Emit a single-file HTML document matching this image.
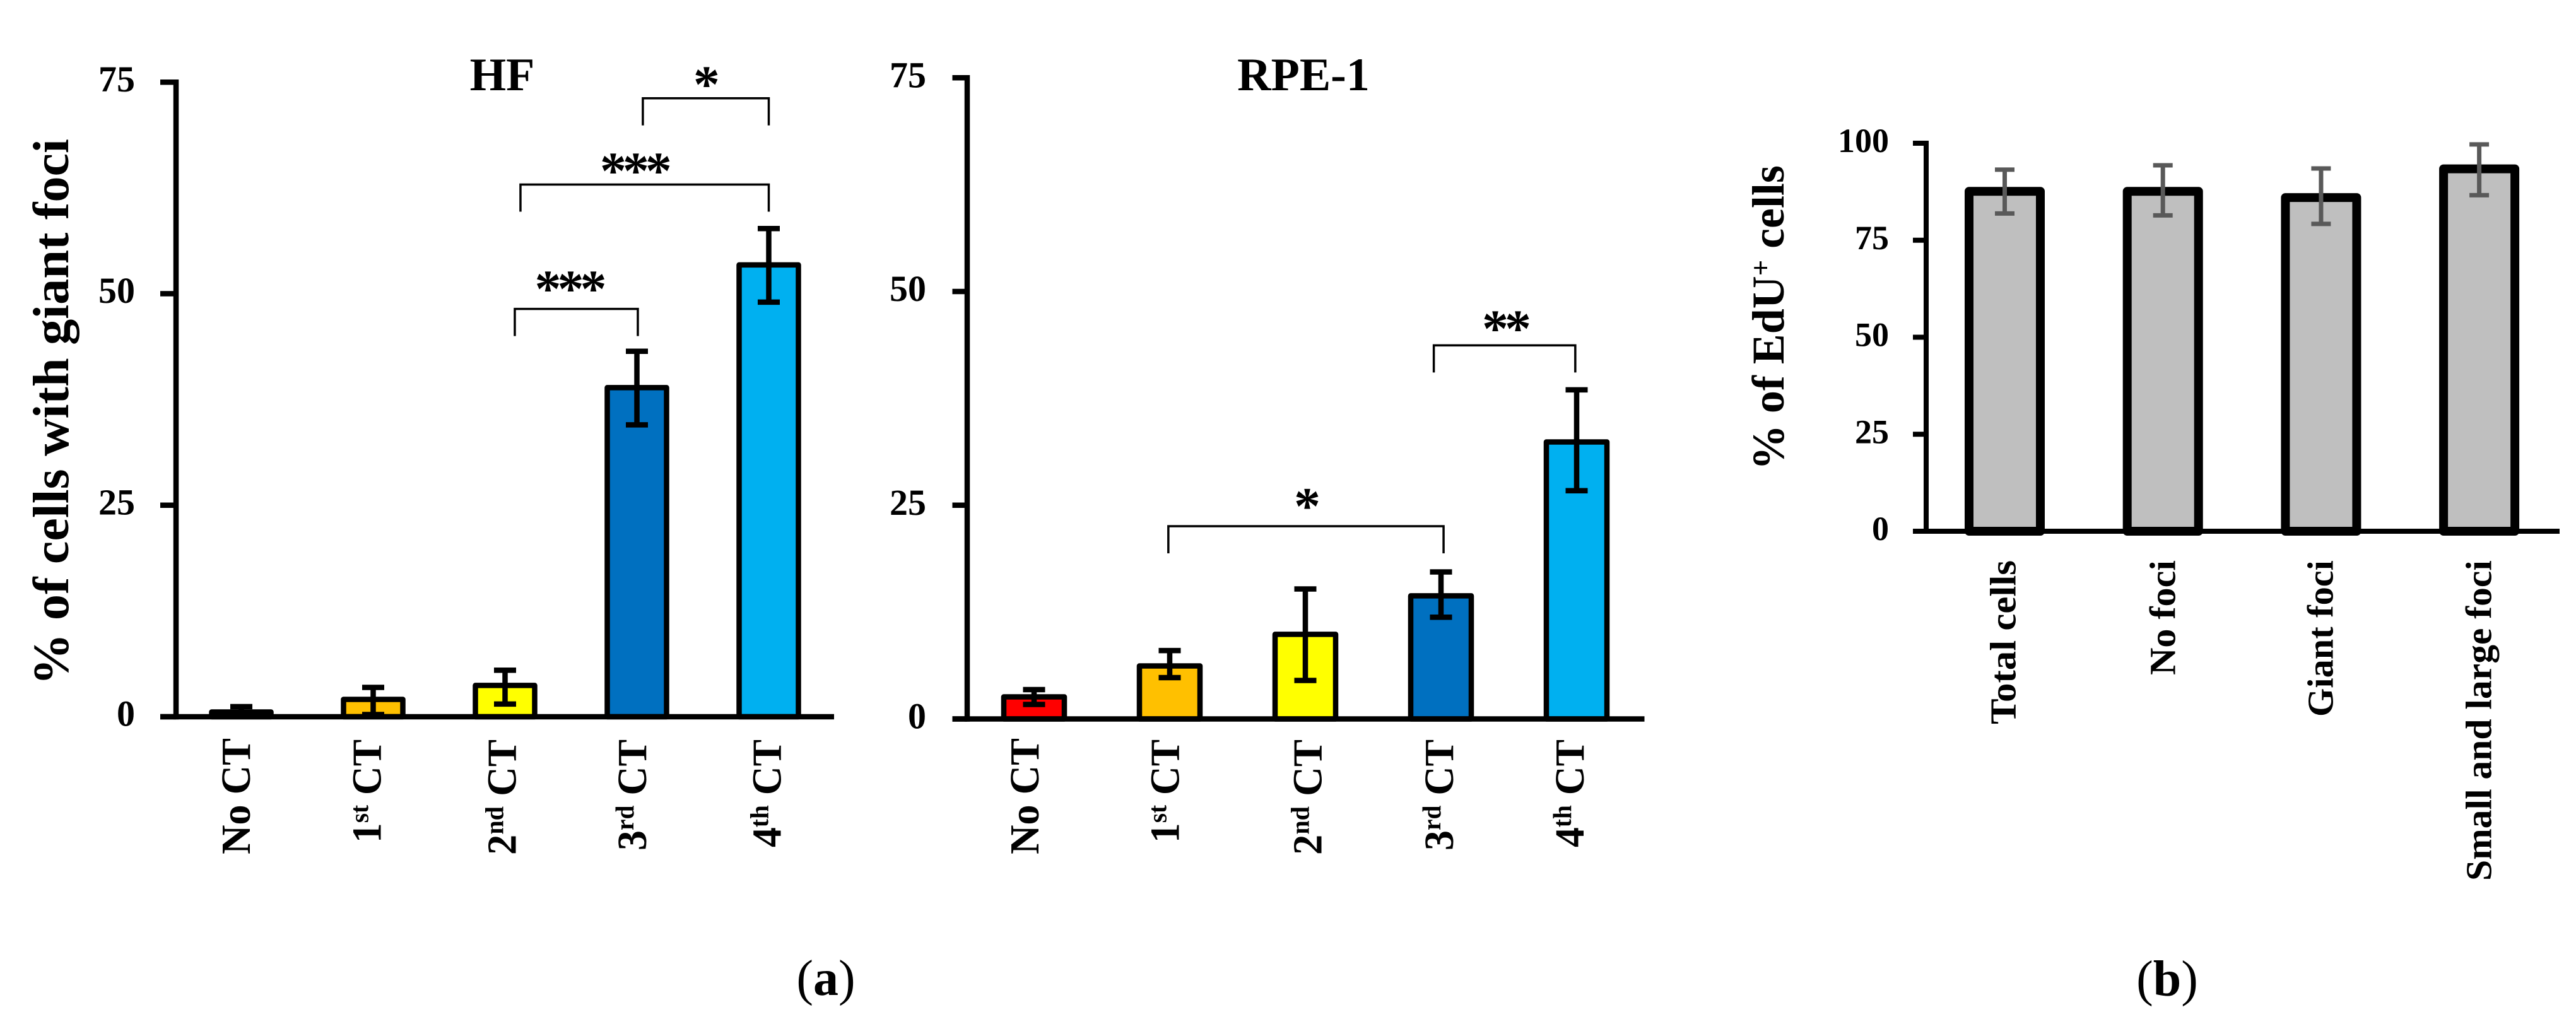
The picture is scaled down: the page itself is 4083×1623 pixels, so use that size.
<!DOCTYPE html>
<html>
<head>
<meta charset="utf-8">
<title>Giant foci charts</title>
<style>
html,body{margin:0;padding:0;background:#fff;width:4083px;height:1623px;overflow:hidden}
svg{display:block}
text{font-family:"Liberation Serif",serif;font-weight:bold;fill:#000}
</style>
</head>
<body>
<svg id="fig" xmlns="http://www.w3.org/2000/svg" width="4083" height="1623" viewBox="0 0 4083 1623">
<rect x="0" y="0" width="4083" height="1623" fill="#fff"/>
<text x="1309" y="1577" font-size="80" text-anchor="middle"><tspan font-weight="normal">(</tspan>a<tspan font-weight="normal">)</tspan></text>
<text x="3435" y="1578" font-size="80" text-anchor="middle"><tspan font-weight="normal">(</tspan>b<tspan font-weight="normal">)</tspan></text>
</svg>
<script>
// categories
const ctCategories = [['No CT'], ['1','st',' CT'], ['2','nd',' CT'], ['3','rd',' CT'], ['4','th',' CT']];
const edUCategories = [['Total cells'], ['No foci'], ['Giant foci'], ['Small and large foci']];
// tick labels
const ctTicks = [0, 25, 50, 75];
const edUTicks = [0, 25, 50, 75, 100];
// series values
const hfValues = [0.56, 2.05, 3.7, 38.9, 53.4];
const hfErrLow = [0.1, 0.26, 1.5, 34.5, 49.0];
const hfErrHigh = [1.19, 3.47, 5.5, 43.2, 57.7];
const rpeValues = [2.58, 6.2, 9.9, 14.4, 32.4];
const rpeErrLow = [1.7, 4.83, 4.5, 11.9, 26.7];
const rpeErrHigh = [3.43, 8.0, 15.2, 17.2, 38.5];
const edUValues = [87.6, 87.6, 86.0, 93.4];
const edUErrLow = [81.9, 81.4, 79.2, 86.6];
const edUErrHigh = [93.2, 94.3, 93.5, 99.7];
const ctColors = ['#FF0000', '#FFC000', '#FFFF00', '#0070C0', '#00B0F0'];
const edUColors = ['#BFBFBF', '#BFBFBF', '#BFBFBF', '#BFBFBF'];
// significance: from-category, to-category, height on the value axis, stars, star category position, star height above bracket (value units)
const hfSig = [[3.045, 4, 73.1, '*', 3.514, 0], [2.117, 4, 62.9, '***', 2.978, 0], [2.074, 3.007, 48.2, '***', 2.483, 0.75]];
const rpeSig = [[2.947, 3.99, 43.7, '**', 3.47, 0.37], [0.99, 3.019, 22.55, '*', 2.0, 0.74]];

const NS = 'http://www.w3.org/2000/svg';
const svg = document.getElementById('fig');
function mk(tag, attrs, name, parent) {
  const el = document.createElementNS(NS, tag);
  for (const k in attrs) el.setAttribute(k, attrs[k]);
  
  
  (parent || svg).appendChild(el);
  return el;
}
function line(x1, y1, x2, y2, w, color, name, g) {
  return mk('line', {x1, y1, x2, y2, stroke: color, 'stroke-width': w}, name, g);
}
// rotated text stretched to a target length; parts = [text] or [num, sup, rest]
function vText(x, y, parts, size, len, name, g) {
  const t = mk('text', {'font-size': size, 'text-anchor': 'start'}, name, g);
  if (parts.length === 1) {
    t.textContent = parts[0];
  } else {
    const a = document.createElementNS(NS, 'tspan'); a.textContent = parts[0]; t.appendChild(a);
    const b = document.createElementNS(NS, 'tspan'); b.textContent = parts[1];
    b.setAttribute('font-size', size * 0.62); b.setAttribute('dy', -size * 0.3); t.appendChild(b);
    const c = document.createElementNS(NS, 'tspan'); c.textContent = parts[2];
    c.setAttribute('dy', size * 0.3); c.setAttribute('xml:space', 'preserve'); t.appendChild(c);
    t.setAttribute('xml:space', 'preserve');
    t.style.whiteSpace = 'pre';
  }
  const sx = len / t.getComputedTextLength();
  t.setAttribute('transform', `translate(${x},${y}) rotate(-90) scale(${sx},1)`);
  return t;
}
function drawPanel(p) {
  const g = mk('g', {}, p.name + '-chart');
  const xPos = i => p.x0 + i * p.step;
  const yPos = v => p.y0 - v * p.unit;
  // bars
  p.values.forEach((v, i) => {
    mk('rect', {x: xPos(i) - p.barW / 2, y: yPos(v), width: p.barW, height: Math.max(p.y0 - yPos(v), 0),
      fill: p.colors[i], stroke: '#000', 'stroke-width': p.barStroke, 'stroke-linejoin': 'round'}, 'bar-' + p.name + '-' + i, g);
  });
  // error bars
  p.values.forEach((v, i) => {
    const cx = xPos(i), hi = yPos(p.high[i]), lo = yPos(p.low[i]);
    line(cx, hi, cx, lo, p.errW, p.errColor, 'error-stem-' + p.name + '-' + i, g);
    line(cx - p.capW / 2, hi, cx + p.capW / 2, hi, p.errW, p.errColor, 'error-cap-high-' + p.name + '-' + i, g);
    line(cx - p.capW / 2, lo, cx + p.capW / 2, lo, p.errW, p.errColor, 'error-cap-low-' + p.name + '-' + i, g);
  });
  // axes
  line(p.axisX, yPos(p.ticks[p.ticks.length - 1]) - p.axisW / 2, p.axisX, p.y0 + p.axisW / 2, p.axisW, '#000', p.name + '-y-axis', g);
  line(p.tickLeft, p.y0, p.xEnd, p.y0, p.axisW, '#000', p.name + '-x-axis', g);
  p.ticks.forEach(t => {
    line(p.tickLeft, yPos(t), p.axisX, yPos(t), p.axisW, '#000', p.name + '-y-tick-' + t, g);
    const label = mk('text', {x: p.labelX, y: yPos(t) + p.tickDy, 'font-size': p.tickSize, 'text-anchor': 'end'}, p.name + '-y-tick-label-' + t, g);
    label.textContent = t;
  });
  // category labels
  p.categories.forEach((c, i) => {
    vText(xPos(i) + p.catDx[i], p.catBottom[i], c, p.catSize, p.catLen[i], p.name + '-x-label-' + i, g);
  });
  // significance brackets
  (p.sig || []).forEach((s, i) => {
    const x1 = xPos(s[0]), x2 = xPos(s[1]), y = yPos(s[2]);
    mk('path', {d: `M${x1} ${y + 43}V${y}H${x2}V${y + 43}`, fill: 'none', stroke: '#000', 'stroke-width': 3.5}, p.name + '-sig-bracket-' + i, g);
    const st = mk('text', {x: xPos(s[4]), y: yPos(s[2] + s[5]) + 6, 'font-size': 84, 'text-anchor': 'middle', 'letter-spacing': -6}, p.name + '-sig-stars-' + i, g);
    st.textContent = s[3];
  });
  return g;
}
drawPanel({name: 'hf', x0: 382.5, step: 209, y0: 1136, unit: 13.41, barW: 94, barStroke: 8.5, errW: 8.5, capW: 35, errColor: '#000',
  axisX: 279, axisW: 8.5, tickLeft: 254, xEnd: 1322, ticks: ctTicks, labelX: 214, tickDy: 14.5, tickSize: 58,
  values: hfValues, low: hfErrLow, high: hfErrHigh, colors: ctColors, categories: ctCategories,
  catDx: [13.5, 12, 17, 14.5, 19], catSize: 66,
  catBottom: [1354, 1336, 1355, 1348, 1343], catLen: [184, 164, 183, 176, 171], sig: hfSig});
drawPanel({name: 'rpe', x0: 1639, step: 215, y0: 1139.5, unit: 13.55, barW: 96, barStroke: 8.5, errW: 8.5, capW: 35, errColor: '#000',
  axisX: 1533, axisW: 8.5, tickLeft: 1509.5, xEnd: 2606.5, ticks: ctTicks, labelX: 1468, tickDy: 15, tickSize: 58,
  values: rpeValues, low: rpeErrLow, high: rpeErrHigh, colors: ctColors, categories: ctCategories,
  catDx: [7, 14.5, 25.4, 19, 11], catSize: 66,
  catBottom: [1354, 1336, 1355, 1348, 1343], catLen: [184, 164, 183, 176, 171], sig: rpeSig});
drawPanel({name: 'edu', x0: 3177.5, step: 250.7, y0: 842, unit: 6.15, barW: 113, barStroke: 14, errW: 7, capW: 31, errColor: '#595959',
  axisX: 3053, axisW: 8, tickLeft: 3032, xEnd: 4057, ticks: edUTicks, labelX: 2994, tickDy: 14, tickSize: 54,
  values: edUValues, low: edUErrLow, high: edUErrHigh, colors: edUColors, categories: edUCategories,
  catDx: [17, 19.5, 18.5, 19], catSize: 58,
  catBottom: [1148, 1070, 1136, 1396], catLen: [260, 182, 248, 508]});

// titles
const hfTitle = mk('text', {x: 796, y: 143, 'font-size': 74, 'text-anchor': 'middle'}, 'hf-title');
hfTitle.textContent = 'HF';
const rpeTitle = mk('text', {x: 2066, y: 143, 'font-size': 74, 'text-anchor': 'middle'}, 'rpe-title');
rpeTitle.textContent = 'RPE-1';
vText(108, 1086, ['% of cells with giant foci'], 80, 866, 'hf-y-axis-title');
vText(2827, 745, ['% of EdU', '+', ' cells'], 72, 483, 'edu-y-axis-title');
</script>
</body>
</html>
